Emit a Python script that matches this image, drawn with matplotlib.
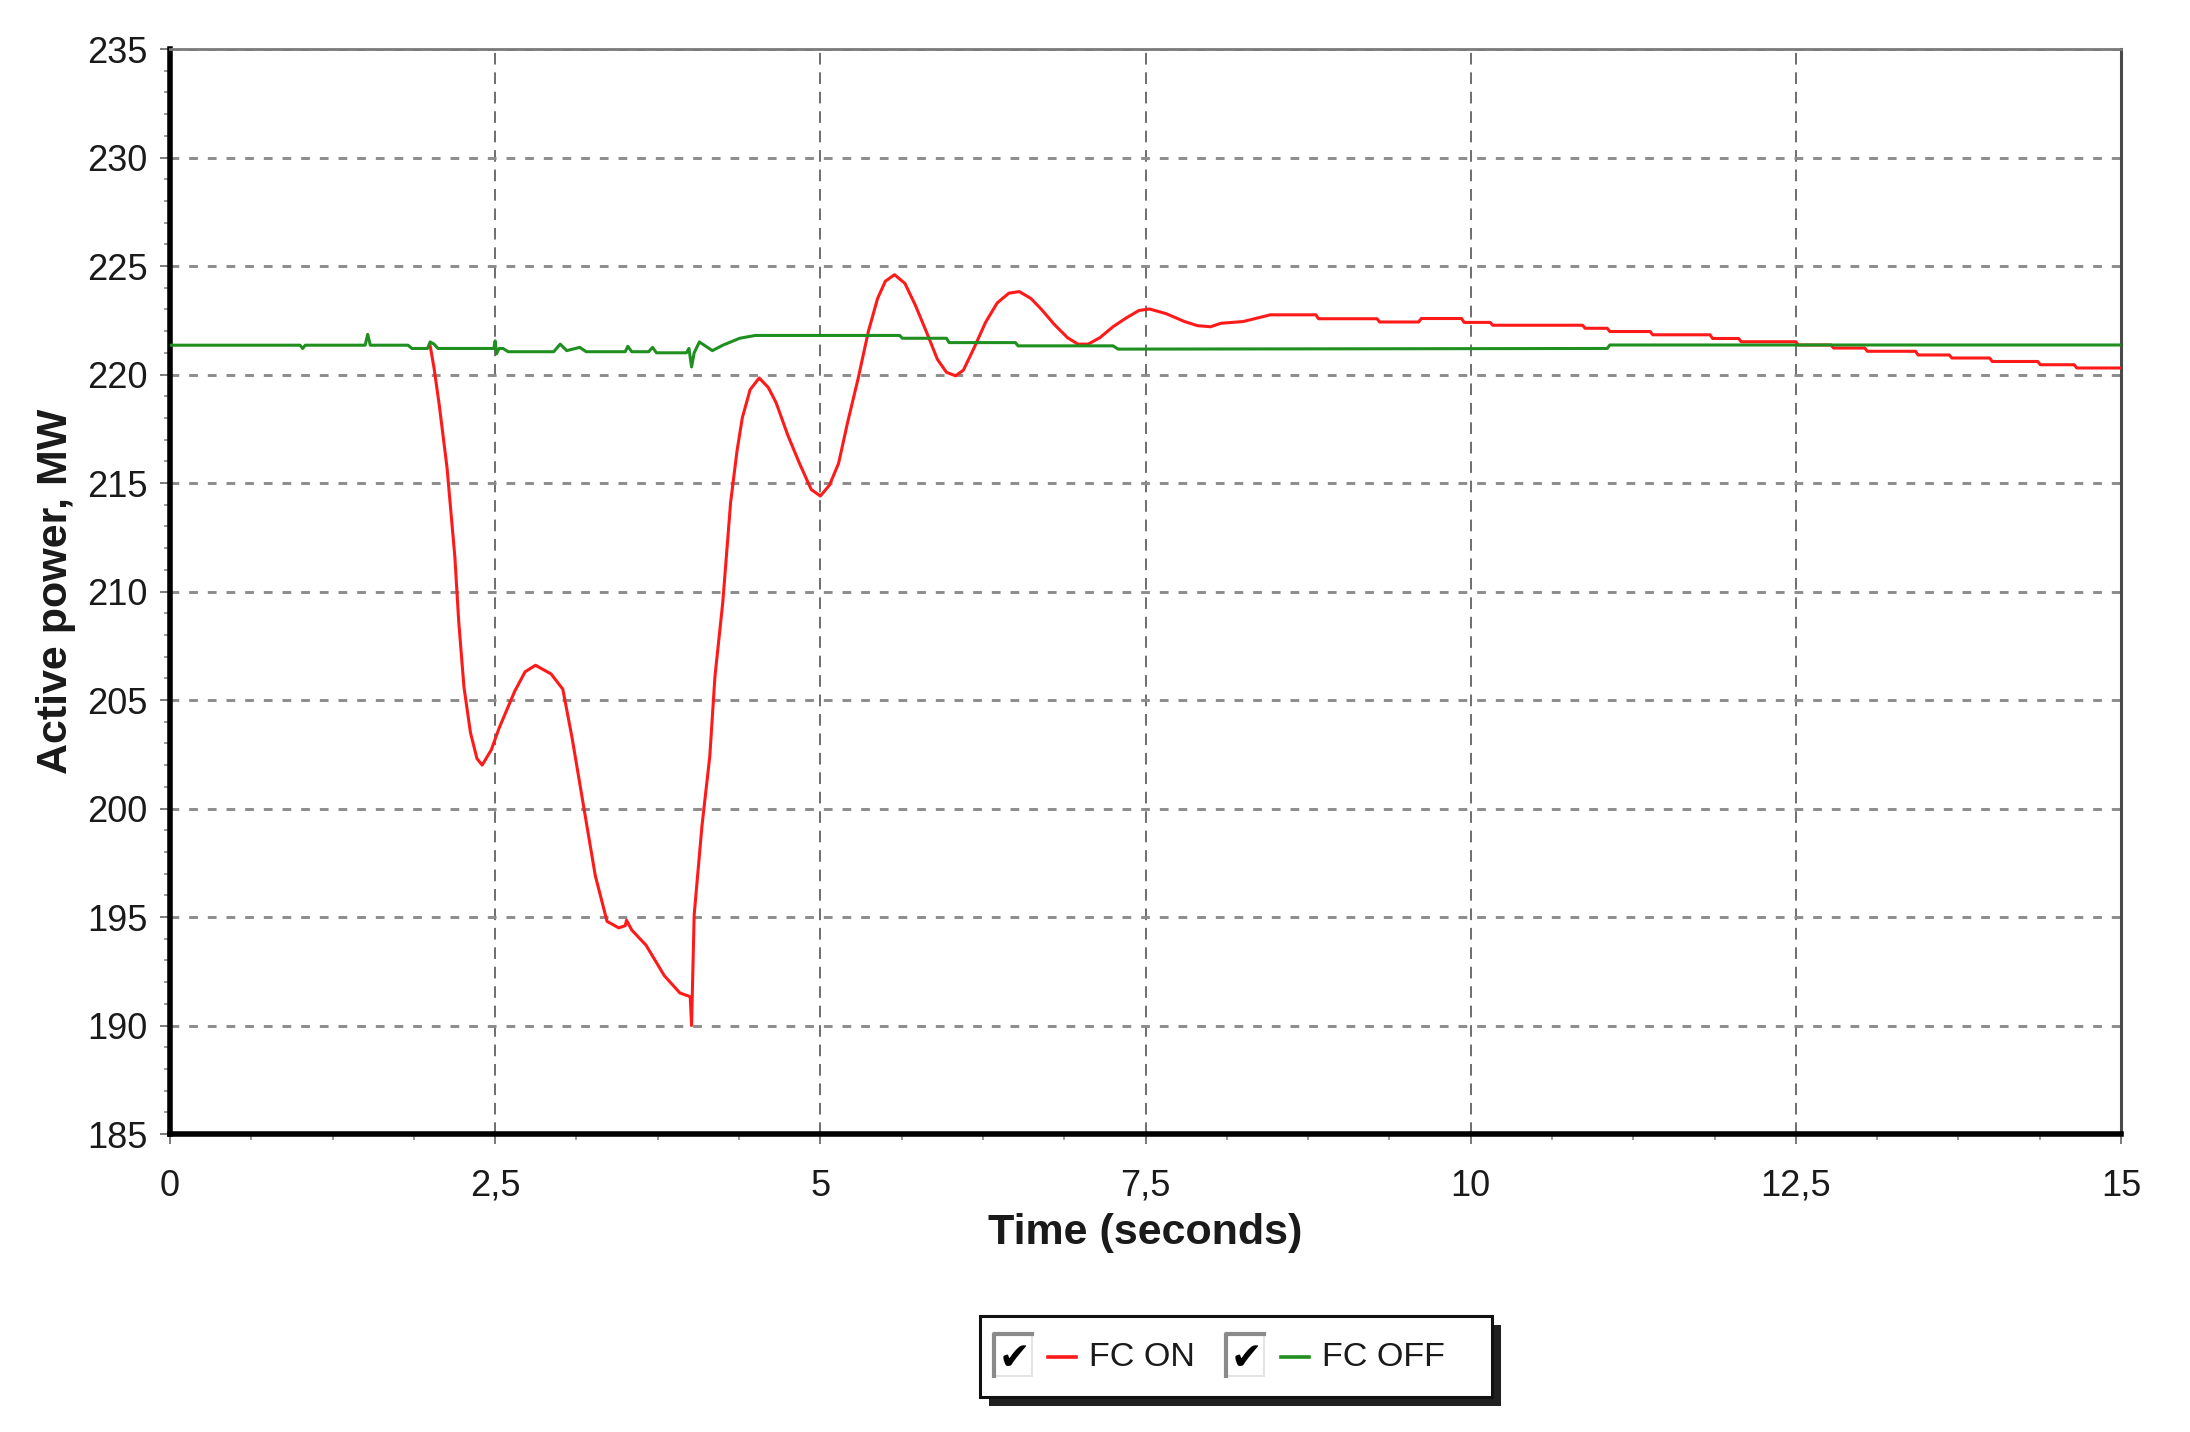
import matplotlib
matplotlib.use('Agg')
import matplotlib.pyplot as plt
from matplotlib.patches import Rectangle
from matplotlib.lines import Line2D
from matplotlib.ticker import MultipleLocator, FuncFormatter
from matplotlib import font_manager

# FC ON (red)
red_t = [2.0, 2.03, 2.07, 2.13, 2.19, 2.22, 2.26, 2.31, 2.36, 2.4, 2.47, 2.53, 2.65, 2.73,
         2.81, 2.93, 3.02, 3.09, 3.18, 3.27, 3.36, 3.45, 3.5, 3.51, 3.55, 3.66, 3.8, 3.92, 3.99,
         4.0, 4.01, 4.03, 4.09, 4.15, 4.19, 4.25, 4.31, 4.36, 4.4, 4.46, 4.53, 4.6, 4.66, 4.75,
         4.84, 4.93, 5.0, 5.07, 5.14, 5.21, 5.29, 5.37, 5.44, 5.5, 5.57, 5.65, 5.73, 5.82, 5.9,
         5.97, 6.04, 6.1, 6.18, 6.27, 6.36, 6.45, 6.53, 6.62, 6.7, 6.8, 6.9, 6.98, 7.06, 7.15,
         7.25, 7.35, 7.45, 7.53, 7.66, 7.8, 7.9, 8.0, 8.08, 8.25, 8.46, 8.81, 8.83, 9.28, 9.3,
         9.6, 9.62, 9.93, 9.95, 10.15, 10.17, 10.86, 10.88, 11.05, 11.07, 11.38, 11.4, 11.84,
         11.86, 12.06, 12.08, 12.5, 12.52, 12.77, 12.79, 13.03, 13.05, 13.42, 13.44, 13.68,
         13.7, 13.99, 14.01, 14.36, 14.38, 14.64, 14.66, 15.0]
red_p = [221.33, 220.3, 218.6, 215.7, 211.6, 208.6, 205.6, 203.5, 202.3, 202.0, 202.7,
         203.7, 205.4, 206.3, 206.6, 206.2, 205.5, 203.3, 200.1, 196.9, 194.8, 194.5, 194.6,
         194.85, 194.4, 193.7, 192.3, 191.5, 191.35, 191.3, 190.0, 195.1, 199.2, 202.4, 206.1,
         209.5, 214.1, 216.5, 218.0, 219.3, 219.84, 219.4, 218.7, 217.2, 215.9, 214.7, 214.4,
         214.9, 215.9, 217.8, 219.8, 222.0, 223.5, 224.3, 224.6, 224.2, 223.2, 221.9, 220.7,
         220.1, 219.94, 220.2, 221.2, 222.4, 223.3, 223.75, 223.82, 223.5, 223.0, 222.3, 221.7,
         221.4, 221.4, 221.7, 222.2, 222.6, 222.95, 223.02, 222.8, 222.44, 222.25, 222.2, 222.36,
         222.44, 222.75, 222.75, 222.57, 222.57, 222.42, 222.42, 222.58, 222.58, 222.4, 222.4,
         222.27, 222.27, 222.13, 222.13, 221.98, 221.98, 221.83, 221.83, 221.66, 221.66, 221.51,
         221.51, 221.36, 221.36, 221.22, 221.22, 221.07, 221.07, 220.9, 220.9, 220.76, 220.76,
         220.6, 220.6, 220.45, 220.45, 220.3, 220.3]

# FC OFF (green)
green_t = [0, 1.0, 1.02, 1.04, 1.5, 1.52, 1.54, 1.83, 1.86, 1.98, 2.0, 2.03, 2.06, 2.49, 2.5, 2.51,
           2.53, 2.56, 2.6, 2.95, 3.0, 3.05, 3.15, 3.2, 3.5, 3.52, 3.55, 3.68, 3.71, 3.74, 3.97,
           3.99, 4.01, 4.03, 4.07, 4.12, 4.17, 4.25, 4.38, 4.5, 5.61, 5.63, 5.97, 5.99, 6.5, 6.52,
           7.25, 7.29, 11.05, 11.07, 15.0]
green_p = [221.35, 221.35, 221.2, 221.35, 221.35, 221.85, 221.35, 221.35, 221.2, 221.2, 221.5,
           221.4, 221.2, 221.2, 221.55, 220.95, 221.2, 221.2, 221.05, 221.05, 221.4, 221.1,
           221.25, 221.05, 221.05, 221.3, 221.05, 221.05, 221.25, 221.0, 221.0, 221.2, 220.35,
           221.0, 221.5, 221.3, 221.1, 221.35, 221.67, 221.8, 221.8, 221.67, 221.67, 221.47,
           221.47, 221.32, 221.32, 221.17, 221.2, 221.36, 221.36]

series_names = ['FC ON', 'FC OFF']
series_colors = ['#ff1a1a', '#1f8f1f']

W, H = 2190, 1432
names = {f.name for f in font_manager.fontManager.ttflist}
narrow = 'Liberation Sans Narrow' if 'Liberation Sans Narrow' in names else 'Liberation Sans'
legend_size = 28 if narrow == 'Liberation Sans Narrow' else 24.5
plt.rcParams['font.family'] = ['Liberation Sans', 'DejaVu Sans']


def fx(px):
    return px / W


def fy(py):
    return 1 - py / H


fig = plt.figure(figsize=(W / 100, H / 100), dpi=100)
fig.patch.set_facecolor('white')
ax = fig.add_axes([fx(170), fy(1134), (2121 - 170) / W, (1134 - 49) / H])

ax.plot(red_t, red_p, color=series_colors[0], lw=2.2, zorder=3)
ax.plot(green_t, green_p, color=series_colors[1], lw=2.2, zorder=4)

ax.set_xlim(0, 15)
ax.set_ylim(185, 235)
ax.xaxis.set_major_locator(MultipleLocator(2.5))
ax.xaxis.set_minor_locator(MultipleLocator(0.625))
ax.yaxis.set_major_locator(MultipleLocator(5))
ax.yaxis.set_minor_locator(MultipleLocator(1))
ax.xaxis.set_major_formatter(FuncFormatter(lambda v, p: ('%g' % v).replace('.', ',')))

ax.grid(axis='y', color='#8c8c8c', lw=2.1, linestyle=(0, (3, 3.4)))
ax.grid(axis='x', color='#6e6e6e', lw=1.4, linestyle=(0, (6, 4)))
ax.set_axisbelow(True)

ax.tick_params(which='major', direction='out', length=7, width=1.3, color='#707070',
               labelsize=26, labelcolor='#1a1a1a')
ax.tick_params(which='minor', direction='out', length=4, width=1.1, color='#808080')
ax.tick_params(axis='y', which='major', pad=9)
ax.tick_params(axis='x', which='major', pad=18)

ax.spines['left'].set_linewidth(4)
ax.spines['left'].set_color('black')
ax.spines['bottom'].set_linewidth(4)
ax.spines['bottom'].set_color('black')
ax.spines['top'].set_linewidth(2)
ax.spines['top'].set_color('#7a7a7a')
ax.spines['right'].set_linewidth(2.2)
ax.spines['right'].set_color('#4a4a4a')

ax.set_xlabel('Time (seconds)', fontsize=31, fontweight='bold', color='#1a1a1a')
ax.xaxis.set_label_coords(0.5, -0.073)
ax.set_ylabel('Active power, MW', fontsize=31, fontweight='bold', color='#1a1a1a')
ax.yaxis.set_label_coords(-0.048, 0.5)

# legend box drawn by hand, with checkboxes like the original UI
fig.patches.append(Rectangle((fx(989), fy(1406)), (1492 - 980) / W, (1397 - 1316) / H,
                             transform=fig.transFigure, facecolor='#202020', edgecolor='none',
                             zorder=1))
fig.patches.append(Rectangle((fx(980), fy(1397)), (1492 - 980) / W, (1397 - 1316) / H,
                             transform=fig.transFigure, facecolor='white', edgecolor='#111111',
                             lw=2.2, zorder=2))

sample_x = [(1048, 1076), (1281, 1309)]
box_x = [994, 1226]
text_x = [1089, 1322]
for name, color, bx, (sx0, sx1), tx in zip(series_names, series_colors, box_x, sample_x, text_x):
    fig.patches.append(Rectangle((fx(bx), fy(1376)), 38 / W, 42 / H, transform=fig.transFigure,
                                 facecolor='white', edgecolor='#e4e4e4', lw=1.5, zorder=3))
    fig.lines.append(Line2D([fx(bx), fx(bx), fx(bx + 38)], [fy(1376), fy(1334), fy(1334)],
                            transform=fig.transFigure, color='#8a8a8a', lw=3, zorder=4))
    fig.text(fx(bx + 20), fy(1359), '\u2714', family='DejaVu Sans', fontsize=27, color='black',
             ha='center', va='center', zorder=5)
    fig.lines.append(Line2D([fx(sx0), fx(sx1)], [fy(1357), fy(1357)], transform=fig.transFigure,
                            color=color, lw=2.6, zorder=4))
    fig.text(fx(tx), fy(1357), name, family=[narrow, 'DejaVu Sans'], fontsize=legend_size,
             color='#1a1a1a', ha='left', va='center', zorder=5)

fig.savefig('out.png', dpi=100, facecolor='white')
